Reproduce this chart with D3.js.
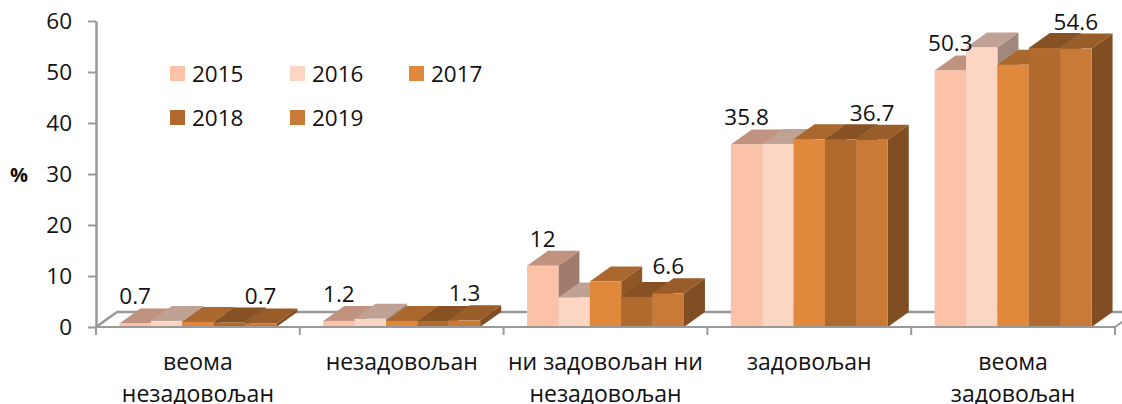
<!DOCTYPE html>
<html>
<head>
<meta charset="utf-8">
<script src="https://cdn.jsdelivr.net/npm/d3@7"></script>
<style>
html, body { margin: 0; padding: 0; background: #fff; }
svg { display: block; }
text { font-family: "Open Sans", sans-serif; fill: #111; }
</style>
</head>
<body>
<div id="chart"></div>
<script>
var categories = [
    ['веома', 'незадовољан'],
    ['незадовољан'],
    ['ни задовољан ни', 'незадовољан'],
    ['задовољан'],
    ['веома', 'задовољан']
];
var years = ['2015', '2016', '2017', '2018', '2019'];
var values2015 = [0.7, 1.2, 12, 35.8, 50.3];
var values2016 = [1.2, 1.6, 5.8, 35.9, 54.8];
var values2017 = [1.0, 1.2, 8.9, 36.8, 51.4];
var values2018 = [0.9, 1.2, 5.9, 36.8, 54.7];
var values2019 = [0.7, 1.3, 6.6, 36.7, 54.6];
var series = [values2015, values2016, values2017, values2018, values2019];
var colors = ['#FCC2A8', '#FCD5C3', '#E0883C', '#B06A2E', '#C97A36'];
var yTicks = [0, 10, 20, 30, 40, 50, 60];

var width = 1122, height = 404;
var depthX = 21, depthY = 15;
var axisColor = '#999999';

var svg = d3.select('#chart').append('svg')
    .attr('width', width)
    .attr('height', height);

var y = d3.scaleLinear().domain([0, 60]).range([327, 21]);
var x0 = d3.scaleBand()
    .domain(d3.range(categories.length))
    .range([96, 1115])
    .paddingInner(0.23)
    .paddingOuter(0.115);
var x1 = d3.scaleBand()
    .domain(d3.range(years.length))
    .range([0, x0.bandwidth()]);

function shade(c, k) {
    var r = d3.rgb(c);
    return d3.rgb(r.r * k, r.g * k, r.b * k).formatHex();
}

// floor of the 3d box, behind the bars
var base = y(0);
svg.append('path')
    .attr('d', 'M96,' + base + 'L' + (96 + depthX) + ',' + (base - depthY) + 'H' + (1115 + depthX))
    .attr('fill', 'none')
    .attr('stroke', axisColor)
    .attr('stroke-width', 2.5);
svg.append('path')
    .attr('d', 'M1115,' + base + 'L' + (1115 + depthX) + ',' + (base - depthY))
    .attr('fill', 'none')
    .attr('stroke', axisColor)
    .attr('stroke-width', 2);

// y axis
var yAxis = svg.append('g')
    .attr('transform', 'translate(96,0)')
    .call(d3.axisLeft(y).tickValues(yTicks).tickSize(8).tickPadding(16).tickSizeOuter(0));
yAxis.selectAll('path, line').attr('stroke', axisColor);
yAxis.select('path').attr('stroke-width', 2.5);
yAxis.selectAll('line').attr('stroke-width', 2);
yAxis.selectAll('text')
    .style('font-family', '"Open Sans", sans-serif')
    .style('font-size', '22.5px');

svg.append('text')
    .attr('x', 19)
    .attr('y', 182)
    .attr('text-anchor', 'middle')
    .style('font-size', '20px')
    .style('font-weight', 'bold')
    .text('%');

// bars, left to right so the taller neighbour's side stays correct
categories.forEach(function (cat, c) {
    var g = svg.append('g').attr('transform', 'translate(' + x0(c) + ',0)');
    years.forEach(function (yr, s) {
        var v = series[s][c];
        var bx = x1(s), bw = x1.bandwidth(), top = y(v);
        g.append('path')
            .attr('d', 'M' + (bx + bw) + ',' + top + 'l' + depthX + ',' + (-depthY) + 'V' + (base - depthY) + 'L' + (bx + bw) + ',' + base + 'Z')
            .attr('fill', shade(colors[s], 0.64));
        g.append('path')
            .attr('d', 'M' + bx + ',' + top + 'l' + depthX + ',' + (-depthY) + 'h' + bw + 'l' + (-depthX) + ',' + depthY + 'Z')
            .attr('fill', shade(colors[s], 0.76));
        g.append('rect')
            .attr('x', bx)
            .attr('y', top)
            .attr('width', bw)
            .attr('height', base - top)
            .attr('fill', colors[s]);
    });
});

// x axis on top of the bar bottoms
svg.append('line')
    .attr('x1', 96).attr('x2', 1115)
    .attr('y1', base).attr('y2', base)
    .attr('stroke', axisColor)
    .attr('stroke-width', 2);
d3.range(categories.length + 1).forEach(function (i) {
    var tx = 96 + i * x0.step();
    svg.append('line')
        .attr('x1', tx).attr('x2', tx)
        .attr('y1', base).attr('y2', base + 8)
        .attr('stroke', axisColor)
        .attr('stroke-width', 2);
});

// category labels
categories.forEach(function (lines, c) {
    lines.forEach(function (line, l) {
        svg.append('text')
            .attr('x', x0(c) + x0.bandwidth() / 2)
            .attr('y', 370 + l * 32)
            .attr('text-anchor', 'middle')
            .style('font-size', '23px')
            .text(line);
    });
});

// only first and last series carry labels
[0, 4].forEach(function (s) {
    categories.forEach(function (cat, c) {
        svg.append('text')
            .attr('x', x0(c) + x1(s) + x1.bandwidth() / 2)
            .attr('y', y(series[s][c]) - 19)
            .attr('text-anchor', 'middle')
            .style('font-size', '22.5px')
            .text(series[s][c]);
    });
});

// legend
var legendX = [170, 290, 409];
var legendY = [66, 110];
years.forEach(function (yr, s) {
    var lx = legendX[s % 3], ly = legendY[Math.floor(s / 3)];
    svg.append('rect')
        .attr('x', lx).attr('y', ly)
        .attr('width', 15).attr('height', 15)
        .attr('fill', colors[s]);
    svg.append('text')
        .attr('x', lx + 22)
        .attr('y', ly + 16)
        .style('font-size', '22.5px')
        .text(yr);
});
</script>
</body>
</html>
